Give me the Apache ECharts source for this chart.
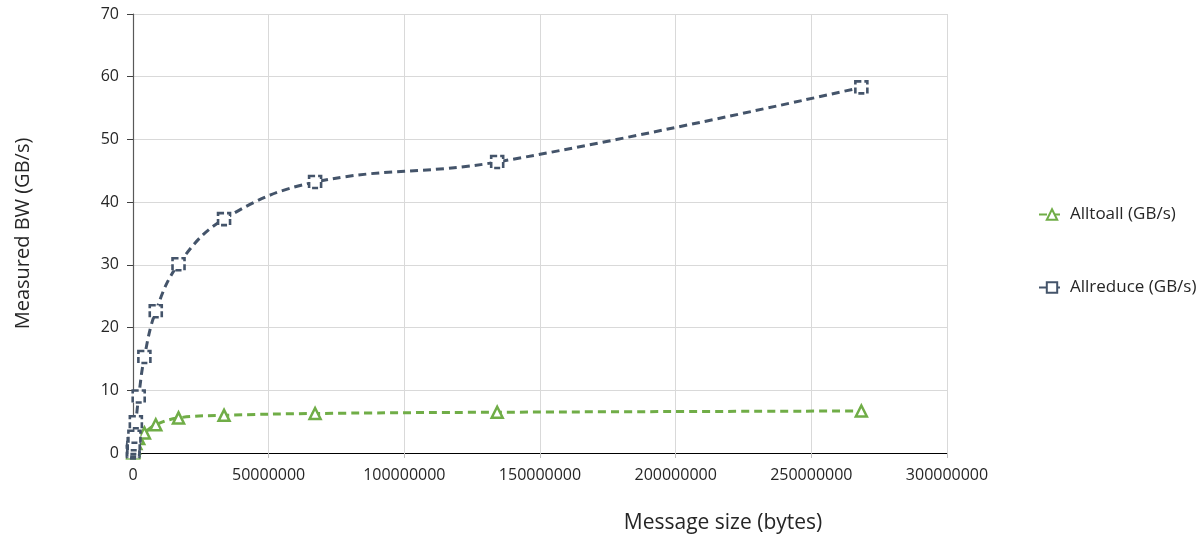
<!DOCTYPE html>
<html>
<head>
<meta charset="utf-8">
<script src="https://cdn.jsdelivr.net/npm/echarts@6/dist/echarts.min.js"></script>
<style>html,body{margin:0;padding:0;background:#fff}#c{width:1202px;height:539px}</style>
</head>
<body>
<div id="c"></div>
<script>
const messageSizes = [16384, 32768, 65536, 131072, 262144, 524288, 1048576, 2097152, 4194304, 8388608, 16777216, 33554432, 67108864, 134217728, 268435456];
const alltoall = [0.03, 0.06, 0.1, 0.2, 0.4, 0.8, 1.5, 2.3, 3.2, 4.5, 5.6, 6.0, 6.3, 6.5, 6.7];
const allreduce = [0.1, 0.2, 0.4, 0.8, 1.4, 2.6, 4.9, 9.0, 15.3, 22.6, 30.1, 37.3, 43.2, 46.4, 58.3];
const xTicks = [0, 50000000, 100000000, 150000000, 200000000, 250000000, 300000000];
const yTicks = [0, 10, 20, 30, 40, 50, 60, 70];

const FONT = '"Open Sans", "Liberation Sans", sans-serif';
const chart = echarts.init(document.getElementById('c'), null, {renderer: 'canvas'});
const pts = (ys) => messageSizes.map((x, i) => [x, ys[i]]);

chart.setOption({
  animation: false,
  grid: {left: 133, right: 255, top: 14, bottom: 85, containLabel: false},
  legend: {
    orient: 'vertical',
    left: 1033,
    top: 201,
    itemGap: 56,
    itemWidth: 26,
    itemHeight: 13,
    textStyle: {fontFamily: FONT, fontSize: 17, color: '#262626'},
    data: ['Alltoall (GB/s)', 'Allreduce (GB/s)']
  },
  xAxis: {
    type: 'value',
    min: xTicks[0],
    max: xTicks[xTicks.length - 1],
    interval: 50000000,
    name: 'Message size (bytes)',
    nameLocation: 'middle',
    nameGap: 60,
    nameTextStyle: {fontFamily: FONT, fontSize: 21, color: '#262626', padding: [0, 0, 0, 366]},
    axisLine: {show: true, onZero: false, lineStyle: {color: '#000', width: 1.2}},
    axisTick: {show: true, length: 5, lineStyle: {color: '#bfbfbf'}},
    axisLabel: {fontFamily: FONT, fontSize: 16, color: '#262626', margin: 14, formatter: v => String(v)},
    splitLine: {show: true, lineStyle: {color: '#d9d9d9', width: 1}}
  },
  yAxis: {
    type: 'value',
    min: yTicks[0],
    max: yTicks[yTicks.length - 1],
    interval: 10,
    name: 'Measured BW (GB/s)',
    nameLocation: 'middle',
    nameGap: 100,
    nameRotate: 90,
    nameTextStyle: {fontFamily: FONT, fontSize: 20, color: '#262626'},
    axisLine: {show: true, lineStyle: {color: '#595959', width: 1.2}},
    axisTick: {show: true, inside: false, length: 6, lineStyle: {color: '#404040'}},
    axisLabel: {fontFamily: FONT, fontSize: 16, color: '#262626', margin: 14},
    splitLine: {show: true, lineStyle: {color: '#d9d9d9', width: 1}}
  },
  series: [
    {
      name: 'Alltoall (GB/s)',
      type: 'line',
      data: pts(alltoall),
      smooth: 0.4,
      symbol: 'triangle',
      symbolSize: 11,
      showAllSymbol: true,
      lineStyle: {color: '#70AD47', width: 3, type: [8, 5]},
      itemStyle: {color: '#fff', borderColor: '#70AD47', borderWidth: 2.5},
      z: 2
    },
    {
      name: 'Allreduce (GB/s)',
      type: 'line',
      data: pts(allreduce),
      smooth: 0.4,
      symbol: 'rect',
      symbolSize: 12,
      showAllSymbol: true,
      lineStyle: {color: '#44546A', width: 3, type: [8, 5]},
      itemStyle: {color: '#fff', borderColor: '#44546A', borderWidth: 2.6, borderType: [6, 3]},
      z: 3
    }
  ]
});
</script>
</body>
</html>
